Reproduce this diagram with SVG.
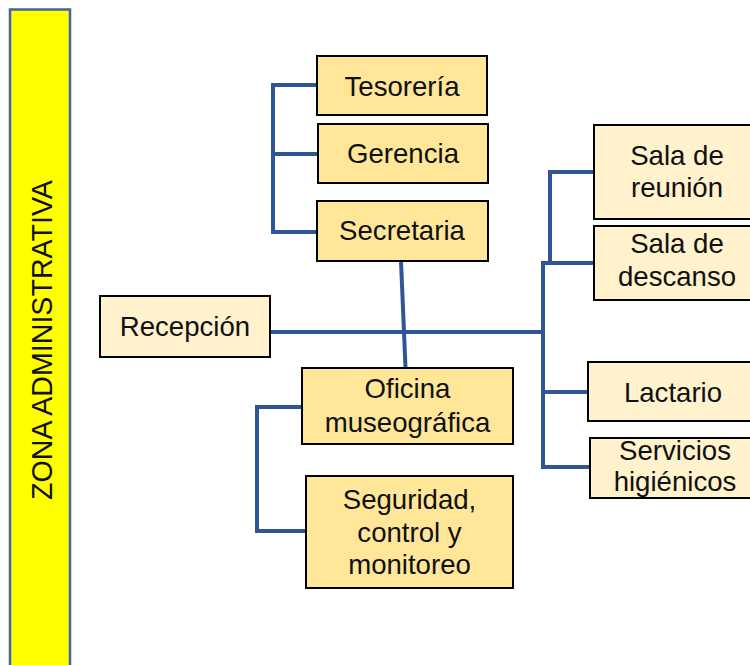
<svg xmlns="http://www.w3.org/2000/svg" width="750" height="665" viewBox="0 0 750 665">
<style>
.t{font-family:"Liberation Sans",Arial,sans-serif;font-size:27.6px;fill:#111;text-anchor:middle}
.z{font-family:"Liberation Sans",Arial,sans-serif;font-size:28.6px;fill:#111;text-anchor:middle}
.b1{fill:#ffe699;stroke:#000;stroke-width:2}
.b2{fill:#fff2cc;stroke:#000;stroke-width:2}
.c{fill:none;stroke:#2f5597;stroke-width:4;stroke-linejoin:miter}
</style>
<rect x="0" y="0" width="750" height="665" fill="#fff"/>
<g id="zona">
<rect x="10" y="9.5" width="60" height="670" fill="#ffff00" stroke="#44649f" stroke-width="2.5"/>
<text class="z" transform="translate(51.5,340) rotate(-90)">ZONA ADMINISTRATIVA</text>
</g>
<g id="connectors">
<polyline class="c" points="317,85 273,85 273,232 317,232"/>
<line class="c" x1="273" y1="154" x2="318" y2="154"/>
<line class="c" x1="401" y1="261" x2="405.5" y2="368"/>
<line class="c" x1="270" y1="332" x2="543" y2="332"/>
<polyline class="c" points="302,407 257,407 257,531 306,531"/>
<polyline class="c" points="594,172 550,172 550,263"/>
<polyline class="c" points="594,263 543,263 543,467 590,467"/>
<line class="c" x1="543" y1="392" x2="588" y2="392"/>
</g>
<g id="tesoreria"><rect class="b1" x="317" y="56" width="170" height="59"/><text class="t" x="402" y="96">Tesorería</text></g>
<g id="gerencia"><rect class="b1" x="318" y="124" width="170" height="59"/><text class="t" x="403" y="163">Gerencia</text></g>
<g id="secretaria"><rect class="b1" x="317" y="201" width="171" height="60"/><text class="t" x="402" y="240">Secretaria</text></g>
<g id="recepcion"><rect class="b2" x="100" y="296" width="170" height="61"/><text class="t" x="185" y="336">Recepción</text></g>
<g id="oficina"><rect class="b1" x="302" y="368" width="211" height="76"/><text class="t" x="407.5" y="398">Oficina</text><text class="t" x="407.5" y="432">museográfica</text></g>
<g id="seguridad"><rect class="b1" x="306" y="476" width="207" height="112"/><text class="t" x="409.5" y="509">Seguridad,</text><text class="t" x="409.5" y="542">control y</text><text class="t" x="409.5" y="574">monitoreo</text></g>
<g id="sala-reunion"><rect class="b2" x="594" y="125" width="168" height="94"/><text class="t" x="677" y="165">Sala de</text><text class="t" x="677" y="197">reunión</text></g>
<g id="sala-descanso"><rect class="b2" x="594" y="226" width="168" height="74"/><text class="t" x="677" y="253">Sala de</text><text class="t" x="677" y="286">descanso</text></g>
<g id="lactario"><rect class="b2" x="588" y="362" width="172" height="59"/><text class="t" x="673" y="402">Lactario</text></g>
<g id="servicios"><rect class="b2" x="590" y="438" width="170" height="60"/><text class="t" x="675" y="460">Servicios</text><text class="t" x="675" y="491">higiénicos</text></g>
</svg>
